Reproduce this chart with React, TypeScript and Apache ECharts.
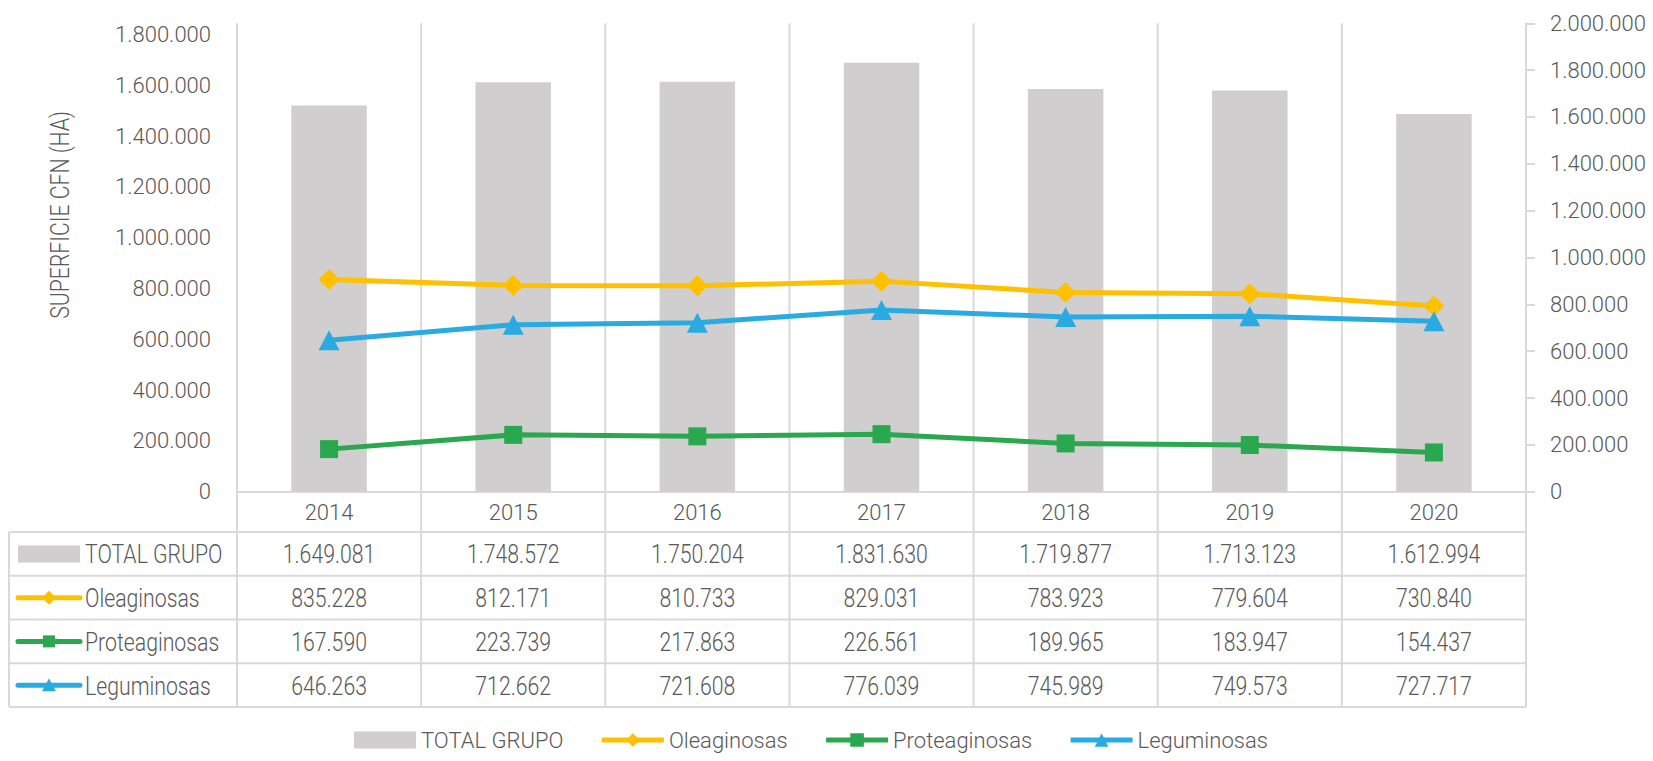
import React, { useEffect, useRef } from "react";
import * as echarts from "echarts";

// ---- Data ----
const years = ["2014", "2015", "2016", "2017", "2018", "2019", "2020"];
const totalGrupo = [1649081, 1748572, 1750204, 1831630, 1719877, 1713123, 1612994];
const oleaginosas = [835228, 812171, 810733, 829031, 783923, 779604, 730840];
const proteaginosas = [167590, 223739, 217863, 226561, 189965, 183947, 154437];
const leguminosas = [646263, 712662, 721608, 776039, 745989, 749573, 727717];
const seriesNames = ["TOTAL GRUPO", "Oleaginosas", "Proteaginosas", "Leguminosas"];
const leftAxis = { min: 0, max: 1800000, interval: 200000 };
const rightAxis = { min: 0, max: 2000000, interval: 200000 };
const yAxisTitle = "SUPERFICIE CFN (HA)";

// ---- Style ----
const FONT = "Roboto, sans-serif";
const FW = 300;
const FS_AXIS = 22;
const FS_TABLE = 25;
const SX = 0.85;
const TXT = "#595959";
const GRIDC = "#D9D9D9";
const colors = ["#D0CECE", "#FFC000", "#2AA84F", "#29ABE2"];
const symbols = ["rect", "diamond", "rect", "triangle"];

const W = 1653;
const H = 761;
const GL = 237;
const GR = 1526;
const GT_R = 23.3;
const GT_L = 34.5;
const GB = 491.7;
const TABLE_LEFT = 9;
const ROW_LINES = [532, 575.75, 619.5, 663.25, 707];

const fmt = (v: number) => Math.round(v).toString().replace(/\B(?=(\d{3})+(?!\d))/g, ".");

function textEl(text: string, x: number, y: number, align: string, extra: any = {}) {
  return {
    type: "text",
    silent: true,
    z: 10,
    x,
    y,
    scaleX: SX,
    ...extra,
    style: {
      text,
      x: 0,
      y: 0,
      fill: TXT,
      fontSize: FS_TABLE,
      fontFamily: FONT,
      fontWeight: FW,
      align,
      verticalAlign: "middle",
      textAlign: align,
      textVerticalAlign: "middle",
    },
  };
}

function buildGraphic() {
  const els: any[] = [];
  const colW = (GR - GL) / years.length;
  const bottom = ROW_LINES[ROW_LINES.length - 1];
  for (let k = 0; k <= years.length; k++) {
    const x = GL + k * colW;
    els.push({
      type: "line",
      silent: true,
      z: -1,
      shape: { x1: x, y1: GT_R, x2: x, y2: bottom },
      style: { stroke: GRIDC, lineWidth: 2 },
    });
  }
  els.push({
    type: "line",
    silent: true,
    z: -1,
    shape: { x1: TABLE_LEFT, y1: ROW_LINES[0], x2: TABLE_LEFT, y2: bottom },
    style: { stroke: GRIDC, lineWidth: 2 },
  });
  ROW_LINES.forEach((y) => {
    els.push({
      type: "line",
      silent: true,
      z: -1,
      shape: { x1: TABLE_LEFT, y1: y, x2: GR, y2: y },
      style: { stroke: GRIDC, lineWidth: 2 },
    });
  });
  const rows = [totalGrupo, oleaginosas, proteaginosas, leguminosas];
  rows.forEach((vals, r) => {
    const yc = (ROW_LINES[r] + ROW_LINES[r + 1]) / 2;
    vals.forEach((v, c) => {
      els.push(textEl(fmt(v), GL + (c + 0.5) * colW, yc + 1, "center"));
    });
    els.push(textEl(seriesNames[r], 85, yc + 1, "left"));
    const kx1 = 18;
    const kx2 = 80;
    const kc = (kx1 + kx2) / 2;
    if (r === 0) {
      els.push({
        type: "rect",
        silent: true,
        shape: { x: kx1, y: yc - 8.5, width: kx2 - kx1, height: 17 },
        style: { fill: colors[0] },
      });
    } else {
      els.push({
        type: "line",
        silent: true,
        shape: { x1: kx1, y1: yc, x2: kx2, y2: yc },
        style: { stroke: colors[r], lineWidth: 5, lineCap: "round" },
      });
      const s = 7;
      let pts: number[][] = [];
      if (symbols[r] === "diamond") pts = [[kc, yc - s], [kc + s, yc], [kc, yc + s], [kc - s, yc]];
      else if (symbols[r] === "rect") pts = [[kc - 6, yc - 6], [kc + 6, yc - 6], [kc + 6, yc + 6], [kc - 6, yc + 6]];
      else pts = [[kc, yc - s], [kc + s, yc + s - 1], [kc - s, yc + s - 1]];
      els.push({
        type: "polygon",
        silent: true,
        shape: { points: pts },
        style: { fill: colors[r] },
      });
    }
  });
  els.push(textEl(yAxisTitle, 60, 215, "center", { rotation: Math.PI / 2 }));
  return els;
}

export default function App() {
  const ref = useRef<HTMLDivElement>(null);
  useEffect(() => {
    if (!ref.current) return;
    const chart = echarts.init(ref.current, undefined, { renderer: "svg" });
    const axisLabelStyle = { color: TXT, fontSize: FS_AXIS, fontFamily: FONT, fontWeight: FW };
    chart.setOption({
      animation: false,
      backgroundColor: "#ffffff",
      textStyle: { fontFamily: FONT },
      grid: [
        { left: GL, right: W - GR, top: GT_R, bottom: H - GB },
        { left: GL, right: W - GR, top: GT_L, bottom: H - GB },
      ],
      xAxis: [
        {
          gridIndex: 0,
          type: "category",
          data: years,
          axisLine: { show: true, lineStyle: { color: GRIDC, width: 2 } },
          axisTick: { show: false },
          axisLabel: { ...axisLabelStyle, margin: 10 },
          splitLine: { show: false },
        },
        { gridIndex: 1, type: "category", data: years, show: false },
      ],
      yAxis: [
        {
          gridIndex: 0,
          type: "value",
          position: "right",
          min: rightAxis.min,
          max: rightAxis.max,
          interval: rightAxis.interval,
          axisLine: { show: true, lineStyle: { color: GRIDC, width: 2 } },
          axisTick: { show: true, length: 9, lineStyle: { color: GRIDC, width: 2 } },
          axisLabel: { ...axisLabelStyle, margin: 24, formatter: (v: number) => fmt(v) },
          splitLine: { show: false },
        },
        {
          gridIndex: 1,
          type: "value",
          position: "left",
          min: leftAxis.min,
          max: leftAxis.max,
          interval: leftAxis.interval,
          axisLine: { show: false },
          axisTick: { show: false },
          axisLabel: { ...axisLabelStyle, margin: 26, formatter: (v: number) => fmt(v) },
          splitLine: { show: false },
        },
      ],
      legend: {
        left: 354,
        top: 729,
        padding: 0,
        itemWidth: 62,
        itemHeight: 17,
        itemGap: 36,
        lineStyle: { width: 5 },
        textStyle: { color: TXT, fontSize: FS_AXIS, fontFamily: FONT, fontWeight: FW },
        data: [
          { name: seriesNames[0], icon: "rect" },
          { name: seriesNames[1] },
          { name: seriesNames[2] },
          { name: seriesNames[3] },
        ],
      },
      series: [
        {
          name: seriesNames[0],
          type: "bar",
          xAxisIndex: 0,
          yAxisIndex: 0,
          data: totalGrupo,
          barWidth: "41%",
          itemStyle: { color: colors[0] },
          z: 2,
        },
        {
          name: seriesNames[1],
          type: "line",
          xAxisIndex: 1,
          yAxisIndex: 1,
          data: oleaginosas,
          symbol: "diamond",
          symbolSize: 21,
          lineStyle: { color: colors[1], width: 5 },
          itemStyle: { color: colors[1] },
          z: 5,
        },
        {
          name: seriesNames[2],
          type: "line",
          xAxisIndex: 1,
          yAxisIndex: 1,
          data: proteaginosas,
          symbol: "rect",
          symbolSize: 18,
          lineStyle: { color: colors[2], width: 5 },
          itemStyle: { color: colors[2] },
          z: 5,
        },
        {
          name: seriesNames[3],
          type: "line",
          xAxisIndex: 0,
          yAxisIndex: 0,
          data: leguminosas,
          symbol: "triangle",
          symbolSize: [21, 20],
          lineStyle: { color: colors[3], width: 5 },
          itemStyle: { color: colors[3] },
          z: 5,
        },
      ],
      graphic: { elements: buildGraphic() },
    });
    return () => chart.dispose();
  }, []);
  return (
    <div
      ref={ref}
      style={{ position: "absolute", left: 0, top: 0, width: W, height: H, background: "#fff" }}
    />
  );
}
